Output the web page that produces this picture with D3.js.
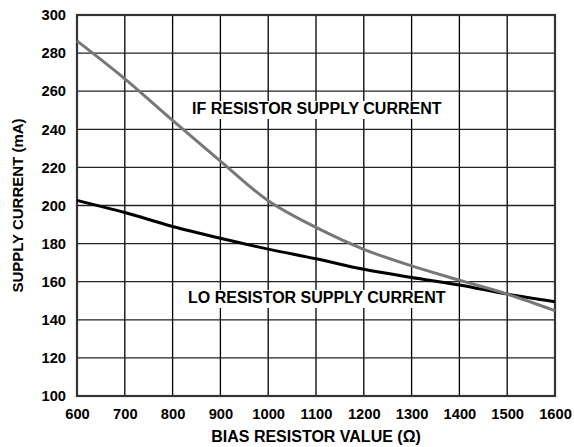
<!DOCTYPE html>
<html><head><meta charset="utf-8">
<script src="https://cdn.jsdelivr.net/npm/d3@7"></script>
<style>
html,body{margin:0;padding:0;background:#fff;}
svg{display:block;}
text{font-family:"Liberation Sans",Arial,Helvetica,sans-serif;font-weight:bold;fill:#000;}
</style></head>
<body>
<svg id="chart" width="574" height="447"></svg>
<script>
const resistance = [600, 700, 800, 900, 1000, 1100, 1200, 1300, 1400, 1500, 1600];
const ifCurrent = [286.4, 266.5, 244.7, 223.3, 202.5, 188.5, 177.0, 168.3, 160.8, 153.5, 144.8];
const loCurrent = [202.7, 196.3, 189.0, 182.8, 177.1, 172.0, 166.5, 162.2, 158.3, 153.5, 149.5];
const xTicks = [600, 700, 800, 900, 1000, 1100, 1200, 1300, 1400, 1500, 1600];
const yTicks = [100, 120, 140, 160, 180, 200, 220, 240, 260, 280, 300];
const seriesLabels = ["IF RESISTOR SUPPLY CURRENT", "LO RESISTOR SUPPLY CURRENT"];
const xTitle = "BIAS RESISTOR VALUE (Ω)";
const yTitle = "SUPPLY CURRENT (mA)";

const svg = d3.select("#chart");
const L = 77, R = 555, T = 15, B = 396;
const x = d3.scaleLinear().domain([600, 1600]).range([L, R]);
const y = d3.scaleLinear().domain([100, 300]).range([B, T]);

// grid
const g = svg.append("g");
g.selectAll("line.v").data(xTicks).join("line")
  .attr("x1", d => x(d)).attr("x2", d => x(d)).attr("y1", T).attr("y2", B)
  .attr("stroke", "#000").attr("stroke-width", 1.3);
g.selectAll("line.h").data(yTicks).join("line")
  .attr("y1", d => y(d)).attr("y2", d => y(d)).attr("x1", L).attr("x2", R)
  .attr("stroke", "#222").attr("stroke-width", 1.3);

// axes (labels only)
const xAxis = d3.axisBottom(x).tickValues(xTicks).tickSize(0).tickPadding(13).tickFormat(d3.format("d"));
const yAxis = d3.axisLeft(y).tickValues(yTicks).tickSize(0).tickPadding(11).tickFormat(d3.format("d"));
const xa = svg.append("g").attr("transform", `translate(0,${B})`).call(xAxis);
const ya = svg.append("g").attr("transform", `translate(${L},0)`).call(yAxis);
[xa, ya].forEach(a => {
  a.select(".domain").remove();
  a.selectAll("text").attr("font-size", "14.7px").attr("font-weight", "bold")
    .attr("font-family", "Liberation Sans, Arial, sans-serif").attr("fill", "#000");
});

// frame
svg.append("rect").attr("x", L).attr("y", T).attr("width", R - L).attr("height", B - T)
  .attr("fill", "none").attr("stroke", "#333").attr("stroke-width", 2.2);

// labels with white backgrounds
function label(txt, lx, ly) {
  const gg = svg.append("g");
  const t = gg.append("text").attr("x", lx).attr("y", ly).attr("font-size", "16px").text(txt);
  const bb = t.node().getBBox();
  gg.insert("rect", "text").attr("x", bb.x - 4).attr("y", bb.y + 1).attr("width", bb.width + 8)
    .attr("height", bb.height + 1).attr("fill", "#fff");
}
label(seriesLabels[0], 192, 114);
label(seriesLabels[1], 188, 303);

// lines
const line = d3.line().curve(d3.curveCatmullRom.alpha(0.5)).x(d => x(d[0])).y(d => y(d[1]));
svg.append("path").datum(resistance.map((r, i) => [r, loCurrent[i]]))
  .attr("d", line).attr("fill", "none").attr("stroke", "#000").attr("stroke-width", 3);
svg.append("path").datum(resistance.map((r, i) => [r, ifCurrent[i]]))
  .attr("d", line).attr("fill", "none").attr("stroke", "#777").attr("stroke-width", 3);

// titles
svg.append("text").attr("x", (L + R) / 2).attr("y", 442).attr("text-anchor", "middle")
  .attr("font-size", "16px").text(xTitle);
svg.append("text").attr("transform", `translate(23,${(T + B) / 2}) rotate(-90)`)
  .attr("text-anchor", "middle").attr("font-size", "15px").text(yTitle);
</script>
</body></html>
